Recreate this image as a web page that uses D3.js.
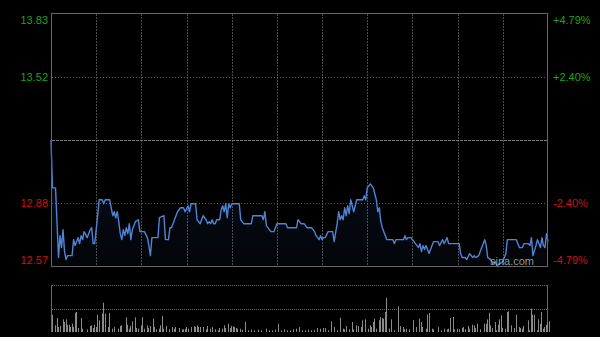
<!DOCTYPE html>
<html>
<head>
<meta charset="utf-8">
<script src="https://cdn.jsdelivr.net/npm/d3@7"></script>
<style>
  html, body { margin: 0; background: #000; }
  svg { display: block; font-family: Arial, "Liberation Sans", sans-serif; }
</style>
</head>
<body>
<svg id="chart" width="600" height="337"></svg>
<script>
// previous close and the half-range of the price axis
const prevClose = 13.20;
const maxPct = 0.0479;

// axis labels, top to bottom
const priceTicks = ["13.83", "13.52", "12.88", "12.57"];
const pctTicks = ["+4.79%", "+2.40%", "-2.40%", "-4.79%"];
const tickFactors = [1, 0.5, -0.5, -1];

// price readings: minute of session (0..330) and price
const minutes = [0,1,3,5,6,7,8,9,10,11,14,15,16,18,19,20,21,22,24,26,27,28,29,30,32,34,35,36,39,40,
  41,42,43,44,45,46,47,48,49,50,51,52,53,54,56,58,59,62,64,65,66,67,71,72,75,76,78,79,80,82,
  84,86,88,89,91,92,93,96,97,99,101,103,104,105,106,107,108,109,110,112,113,114,115,116,117,118,119,120,125,126,
  128,133,134,140,141,142,143,144,146,148,150,156,157,163,164,166,168,170,173,175,176,178,179,180,181,182,184,187,188,190,
  191,192,193,194,195,196,197,198,199,201,202,203,207,208,209,210,212,213,214,216,217,218,219,220,222,223,227,228,229,234,
  235,236,237,239,241,243,244,245,246,247,248,249,251,253,254,257,258,260,261,263,264,271,272,273,275,276,278,280,281,282,
  284,286,288,289,290,292,293,295,296,300,302,303,309,311,313,314,317,318,319,320,322,323,325,326,327,328,329,330];
const prices = [13.20,12.96,12.96,12.61,12.72,12.66,12.75,12.64,12.60,12.62,12.62,12.70,12.67,12.71,12.68,12.72,12.70,12.74,12.71,12.75,12.76,12.68,12.68,12.75,12.90,12.90,12.88,12.90,12.90,12.86,
  12.82,12.84,12.81,12.84,12.79,12.73,12.70,12.75,12.72,12.76,12.73,12.78,12.70,12.75,12.79,12.80,12.74,12.74,12.71,12.67,12.62,12.71,12.71,12.81,12.82,12.70,12.70,12.76,12.76,12.80,
  12.84,12.86,12.86,12.84,12.87,12.84,12.88,12.88,12.80,12.78,12.82,12.80,12.78,12.79,12.78,12.80,12.78,12.78,12.80,12.80,12.85,12.87,12.84,12.88,12.81,12.88,12.86,12.88,12.88,12.80,
  12.78,12.78,12.82,12.82,12.80,12.84,12.77,12.76,12.74,12.74,12.78,12.78,12.76,12.76,12.80,12.78,12.78,12.76,12.76,12.74,12.72,12.70,12.72,12.70,12.71,12.71,12.74,12.74,12.69,12.78,
  12.84,12.80,12.82,12.80,12.86,12.82,12.87,12.83,12.90,12.84,12.87,12.90,12.90,12.92,12.90,12.96,12.98,12.97,12.96,12.90,12.84,12.86,12.79,12.76,12.72,12.70,12.70,12.68,12.70,12.70,
  12.72,12.70,12.71,12.71,12.69,12.67,12.66,12.68,12.64,12.67,12.65,12.67,12.63,12.67,12.69,12.69,12.67,12.70,12.68,12.71,12.68,12.68,12.63,12.61,12.61,12.60,12.63,12.61,12.62,12.61,
  12.62,12.66,12.70,12.67,12.61,12.60,12.58,12.59,12.57,12.59,12.63,12.70,12.70,12.66,12.66,12.68,12.68,12.67,12.71,12.62,12.67,12.70,12.66,12.71,12.67,12.66,12.73,12.69];

// volume readings: minute of session and volume (thousand shares)
const volMinutes = [0,2,3,4,5,7,8,9,10,11,12,13,14,15,16,17,19,20,23,25,26,27,28,29,30,31,33,34,35,37,
  38,40,41,44,45,46,49,50,51,52,53,55,56,57,59,60,61,63,64,65,67,68,69,71,72,73,74,76,78,80,
  81,82,84,86,87,88,89,90,92,94,95,96,97,98,100,102,103,105,106,108,110,111,113,114,115,117,118,119,120,121,
  122,123,125,126,128,130,132,134,137,139,142,144,146,148,150,152,154,156,158,160,162,164,166,168,170,172,174,176,178,180,
  181,183,185,187,189,191,193,194,195,197,199,200,202,203,205,206,208,210,211,212,213,214,215,217,218,219,220,221,222,224,
  225,227,230,231,233,234,235,237,240,242,244,245,246,248,249,250,252,253,256,258,260,262,263,264,266,267,269,270,272,273,
  274,276,277,279,280,281,282,284,287,288,289,290,291,292,294,295,296,297,298,299,301,302,303,305,307,308,310,311,312,313,
  316,317,318,319,320,322,323,324,325,326,327,328,329,330];
const volumes = [173,67,140,50,60,127,100,127,73,73,50,83,50,193,200,40,140,33,27,60,67,40,73,50,173,117,183,293,183,50,
  190,33,50,33,60,67,147,73,33,60,107,147,40,33,67,150,33,67,40,60,133,50,27,33,67,160,33,60,27,50,
  33,50,40,27,27,33,50,33,50,60,50,67,50,50,50,27,60,33,50,27,17,40,33,67,40,83,40,60,57,50,
  40,33,33,23,100,17,23,17,23,17,33,17,17,23,83,17,27,17,17,27,33,50,17,17,23,17,20,40,33,40,
  40,17,107,50,17,143,33,27,60,27,100,27,67,60,50,117,127,33,67,50,100,133,33,117,150,140,133,200,340,33,
  127,17,257,60,50,27,33,27,117,50,133,100,50,33,173,190,33,27,50,17,33,27,33,140,150,27,33,27,40,50,
  27,60,33,73,67,40,83,27,83,83,127,193,67,40,100,17,73,127,167,40,33,200,207,67,40,173,50,40,33,60,
  117,17,233,173,173,17,127,83,200,33,50,73,100,107];

const svg = d3.select('#chart');

// main price panel
const x = d3.scaleLinear().domain([0, 330]).range([51, 548]);
const y = d3.scaleLinear()
  .domain([prevClose * (1 - maxPct), prevClose * (1 + maxPct)])
  .range([266, 14]);

// volume panel
const yVol = d3.scaleLinear().domain([0, 470]).range([332, 285]);

// vertical grid every half hour
svg.append('g')
  .selectAll('line')
  .data(d3.range(30, 330, 30))
  .join('line')
  .attr('x1', d => Math.round(x(d)) + 0.5)
  .attr('x2', d => Math.round(x(d)) + 0.5)
  .attr('y1', 14).attr('y2', 266)
  .attr('stroke', '#4a4a4a')
  .attr('stroke-dasharray', '2,1');

// horizontal grid at +-2.40%
svg.append('g')
  .selectAll('line')
  .data([0.5, -0.5])
  .join('line')
  .attr('x1', 52).attr('x2', 548)
  .attr('y1', d => Math.round(y(prevClose * (1 + d * maxPct))) + 0.5)
  .attr('y2', d => Math.round(y(prevClose * (1 + d * maxPct))) + 0.5)
  .attr('stroke', '#5a5a5a')
  .attr('stroke-dasharray', '1,2');

// previous close line
svg.append('line')
  .attr('x1', 52).attr('x2', 548)
  .attr('y1', Math.round(y(prevClose)) + 0.5)
  .attr('y2', Math.round(y(prevClose)) + 0.5)
  .attr('stroke', '#777')
  .attr('stroke-dasharray', '3,1');

// area under the price line
const defs = svg.append('defs');
const grad = defs.append('linearGradient')
  .attr('id', 'fillGrad')
  .attr('x1', 0).attr('y1', 0).attr('x2', 0).attr('y2', 1);
grad.append('stop').attr('offset', '0%').attr('stop-color', '#3c6ed2').attr('stop-opacity', 0.14);
grad.append('stop').attr('offset', '100%').attr('stop-color', '#3c6ed2').attr('stop-opacity', 0.04);

const pts = minutes.map((m, i) => [m, prices[i]]);

svg.append('path')
  .datum(pts)
  .attr('fill', 'url(#fillGrad)')
  .attr('d', d3.area().x(d => x(d[0])).y0(266).y1(d => y(d[1])));

svg.append('path')
  .datum(pts)
  .attr('fill', 'none')
  .attr('stroke', '#4f84d6')
  .attr('stroke-width', 1.4)
  .attr('stroke-linejoin', 'round')
  .attr('d', d3.line().x(d => x(d[0])).y(d => y(d[1])));

// frame of the price panel
svg.append('rect')
  .attr('x', 51.5).attr('y', 13.5)
  .attr('width', 496).attr('height', 253)
  .attr('fill', 'none')
  .attr('stroke', '#666');

// axis labels
const labels = svg.append('g').attr('font-size', 11);
tickFactors.forEach((f, i) => {
  const yy = y(prevClose * (1 + f * maxPct)) + (f === 1 ? 6 : f === -1 ? -6 : 0);
  const col = f > 0 ? '#1fa01f' : '#d01010';
  labels.append('text')
    .attr('x', 48).attr('y', yy).attr('dy', '0.35em')
    .attr('text-anchor', 'end').attr('fill', col)
    .text(priceTicks[i]);
  labels.append('text')
    .attr('x', 553).attr('y', yy).attr('dy', '0.35em')
    .attr('fill', col)
    .text(pctTicks[i]);
});

// watermark
svg.append('text')
  .attr('x', 490).attr('y', 265)
  .attr('font-size', 11)
  .attr('fill', '#b0b0b0')
  .attr('fill-opacity', 0.85)
  .text('sina.com');

// volume panel grid and frame
svg.append('g')
  .selectAll('line')
  .data([470, 235])
  .join('line')
  .attr('x1', 52).attr('x2', 548)
  .attr('y1', d => Math.round(yVol(d)) + 0.5)
  .attr('y2', d => Math.round(yVol(d)) + 0.5)
  .attr('stroke', '#666')
  .attr('stroke-dasharray', '1,1');

svg.append('line')
  .attr('x1', 51.5).attr('x2', 51.5).attr('y1', 285).attr('y2', 332)
  .attr('stroke', '#666');
svg.append('line')
  .attr('x1', 547.5).attr('x2', 547.5).attr('y1', 285).attr('y2', 332)
  .attr('stroke', '#666');

// volume bars
svg.append('g')
  .selectAll('rect')
  .data(volMinutes.map((m, i) => [m, volumes[i]]))
  .join('rect')
  .attr('x', d => Math.round(x(d[0])) + 1)
  .attr('width', 1)
  .attr('y', d => yVol(d[1]))
  .attr('height', d => 332 - yVol(d[1]))
  .attr('fill', '#8a8a8a');
</script>
</body>
</html>
